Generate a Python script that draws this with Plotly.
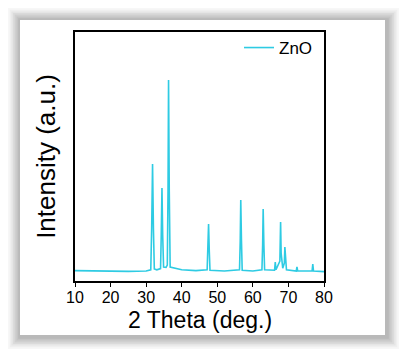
import plotly.graph_objects as go

# Diffraction profile (2θ in degrees, intensity in a.u.)
two_theta = [10, 15, 20, 25, 30, 31.3, 31.55, 31.8, 32.05, 32.3, 33.0, 34.05, 34.25, 34.45, 34.65, 34.9,
             35.6, 35.95, 36.15, 36.3, 36.5, 36.75, 40, 44, 47.15, 47.35, 47.55, 47.75, 47.95,
             52, 56.25, 56.45, 56.6, 56.8, 57.0, 60, 62.55, 62.75, 62.9, 63.1, 63.3,
             66.1, 66.3, 66.5, 67.6, 67.8, 67.95, 68.4, 68.85, 69.0, 69.2, 69.45,
             72.2, 72.4, 72.6, 76.65, 76.85, 77.05, 80]
intensity = [520, 500, 480, 480, 500, 560, 2600, 5850, 2600, 600, 560, 620, 2300, 4650, 2300, 700,
             680, 800, 4500, 10050, 4500, 700, 560, 520, 560, 1500, 2850, 1500, 540,
             500, 560, 2000, 4050, 2000, 540, 500, 560, 1800, 3600, 1800, 560,
             540, 950, 560, 1000, 2950, 1400, 640, 900, 1700, 900, 560,
             500, 700, 500, 500, 850, 500, 470]

x_ticks = [10, 20, 30, 40, 50, 60, 70, 80]
x_range = [10, 80]
y_range = [0, 12450]
x_title = "2 Theta (deg.)"
y_title = "Intensity (a.u.)"

LINE = "#2ECBE3"
FONT = "Liberation Sans, Arial, sans-serif"

fig = go.Figure()
fig.add_trace(go.Scatter(x=two_theta, y=intensity, mode="lines", name="ZnO",
                         line=dict(color=LINE, width=1.6)))

# plot area in pixels: left 75, right 324, top 32, bottom 281
L, R, T, B = 75, 324, 32, 281
W = R - L
H = B - T
def px(x): return (x - L) / W
def py(y): return (B - y) / H

shapes = []
# soft shadow around the card
for i, op in enumerate([0.05, 0.05, 0.06, 0.07, 0.08, 0.09, 0.10]):
    d = 12 - i * 1.7
    shapes.append(dict(type="rect", xref="paper", yref="paper", layer="below",
                       x0=px(20 - d), x1=px(385 + d + 2), y0=py(335 + d + 2), y1=py(20 - d),
                       line=dict(width=0), fillcolor=f"rgba(90,90,90,{op})"))
shapes.append(dict(type="rect", xref="paper", yref="paper", layer="below",
                   x0=px(20), x1=px(385), y0=py(335), y1=py(20),
                   line=dict(width=0), fillcolor="white"))

fig.update_layout(
    width=405, height=356,
    margin=dict(l=L, r=405 - R, t=T, b=356 - B, autoexpand=False),
    paper_bgcolor="white", plot_bgcolor="rgba(0,0,0,0)",
    font=dict(family=FONT, color="black"),
    shapes=shapes,
    showlegend=True,
    legend=dict(x=px(239), xanchor="left", y=py(48), yanchor="middle",
                bgcolor="rgba(0,0,0,0)", font=dict(size=17, family=FONT)),
    xaxis=dict(range=x_range, tickvals=x_ticks, ticks="outside", ticklen=4, tickwidth=1.3,
               tickcolor="black", showline=True, linecolor="black", linewidth=1.5, mirror=True,
               showgrid=False, zeroline=False, tickfont=dict(size=16, family=FONT),
               ticklabelstandoff=-3),
    yaxis=dict(range=y_range, showticklabels=False, ticks="", showline=True, linecolor="black",
               linewidth=1.5, mirror=True, showgrid=False, zeroline=False,
               title=dict(text=y_title, font=dict(size=26, family=FONT), standoff=10)),
    annotations=[dict(text=x_title, xref="paper", yref="paper", x=0.5, y=py(319.5),
                      xanchor="center", yanchor="middle", showarrow=False,
                      font=dict(size=23, family=FONT))],
)

fig.write_html("out.html", config={"displayModeBar": False},
               post_script="document.body.style.margin='0';")
